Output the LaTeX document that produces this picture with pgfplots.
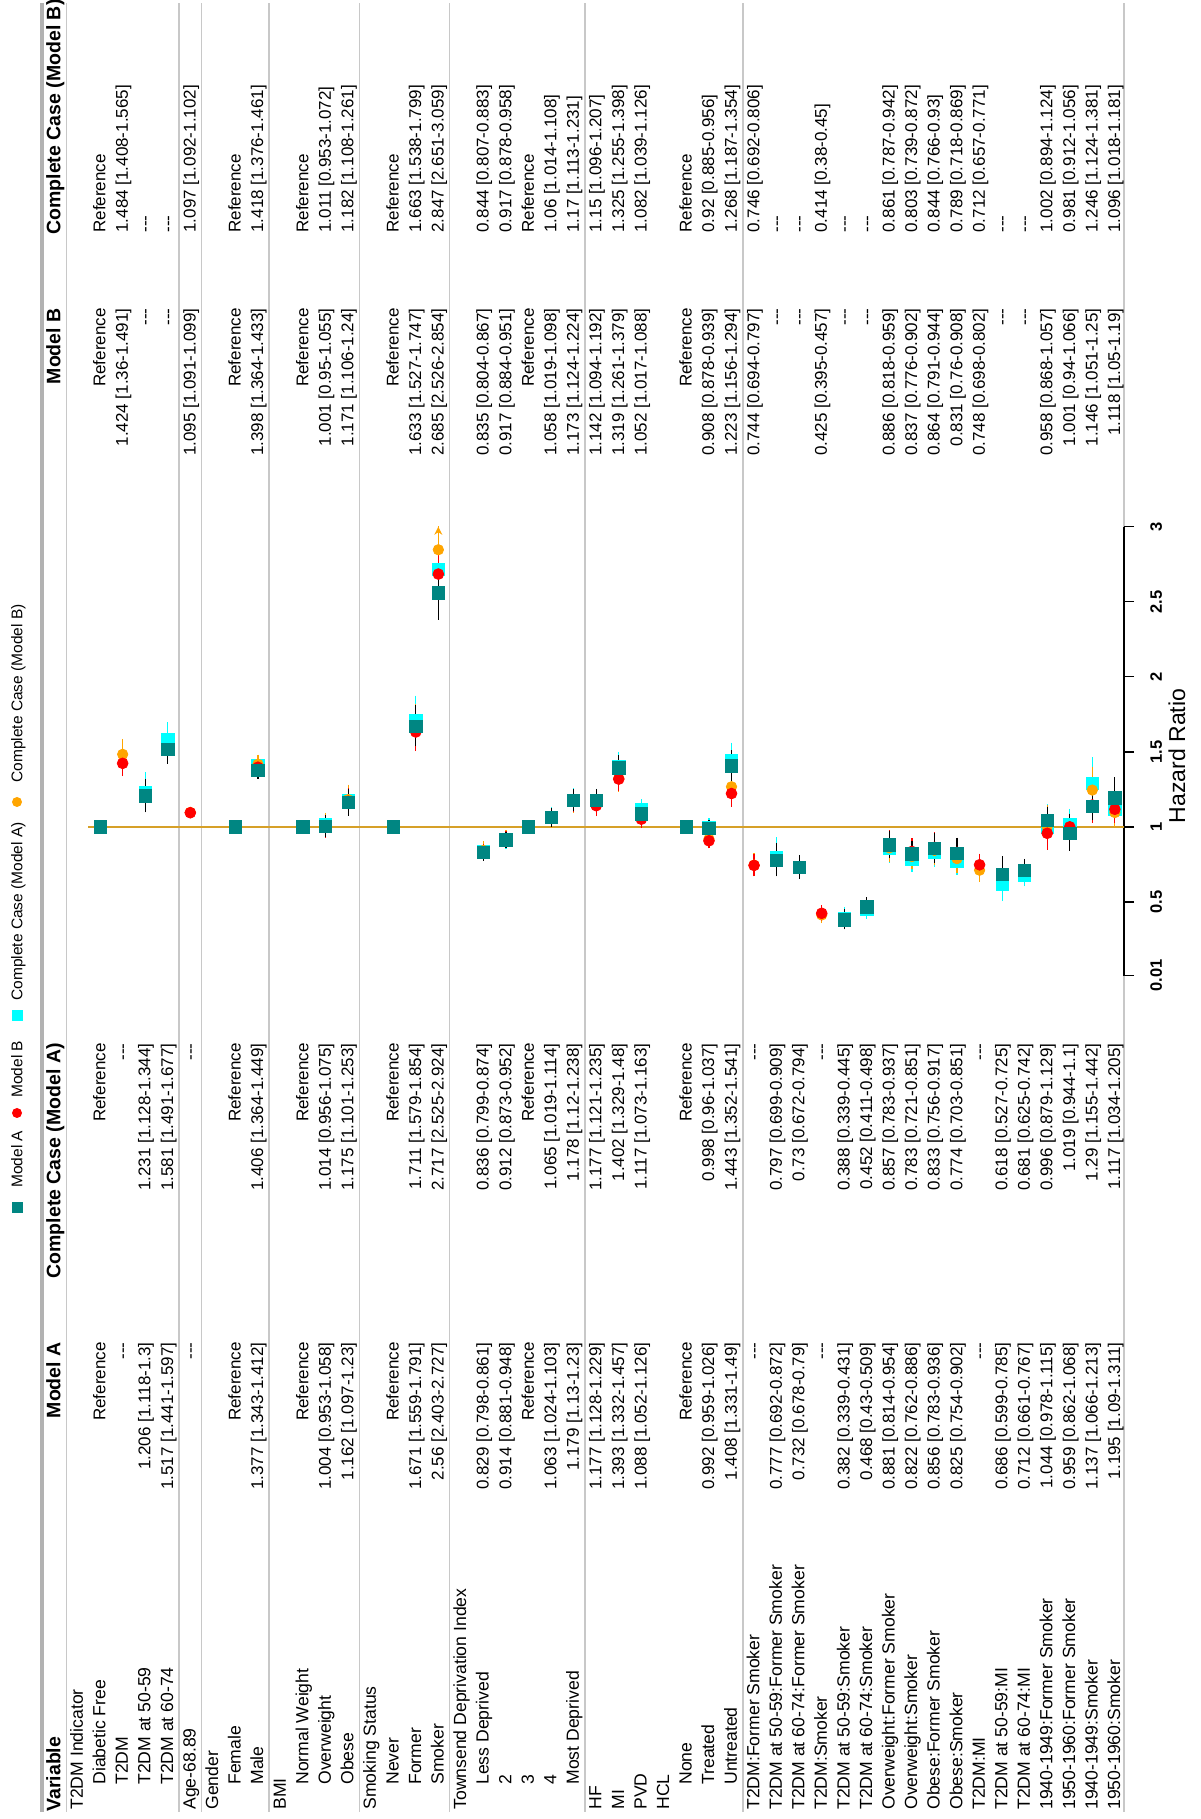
\documentclass[border=0pt]{standalone}
\usepackage{pgfplots}
\pgfplotsset{compat=1.18}
\usepackage{pgfplotstable}
\usepackage{fontspec}
\setmainfont{Liberation Sans}
\usetikzlibrary{arrows.meta}

\definecolor{mA}{RGB}{0,134,130}
\definecolor{mB}{RGB}{255,0,0}
\definecolor{ccA}{RGB}{0,255,255}
\definecolor{ccB}{RGB}{255,165,0}
\definecolor{refline}{RGB}{214,160,40}
\definecolor{sep}{RGB}{200,200,200}

% row index i, hazard ratio, lower, upper
\pgfplotstableread{
i hr lo hi
4 1.206 1.118 1.3
5 1.517 1.441 1.597
9 1.377 1.343 1.412
12 1.004 0.953 1.058
13 1.162 1.097 1.23
16 1.671 1.559 1.791
17 2.56 2.403 2.727
19 0.829 0.798 0.861
20 0.914 0.881 0.948
22 1.063 1.024 1.103
23 1.179 1.13 1.23
24 1.177 1.128 1.229
25 1.393 1.332 1.457
26 1.088 1.052 1.126
29 0.992 0.959 1.026
30 1.408 1.331 1.49
32 0.777 0.692 0.872
33 0.732 0.678 0.79
35 0.382 0.339 0.431
36 0.468 0.43 0.509
37 0.881 0.814 0.954
38 0.822 0.762 0.886
39 0.856 0.783 0.936
40 0.825 0.754 0.902
42 0.686 0.599 0.785
43 0.712 0.661 0.767
44 1.044 0.978 1.115
45 0.959 0.862 1.068
46 1.137 1.066 1.213
47 1.195 1.09 1.311
}\modelA

\pgfplotstableread{
i hr lo hi
3 1.424 1.36 1.491
6 1.095 1.091 1.099
9 1.398 1.364 1.433
12 1.001 0.95 1.055
13 1.171 1.106 1.24
16 1.633 1.527 1.747
17 2.685 2.526 2.854
19 0.835 0.804 0.867
20 0.917 0.884 0.951
22 1.058 1.019 1.098
23 1.173 1.124 1.224
24 1.142 1.094 1.192
25 1.319 1.261 1.379
26 1.052 1.017 1.088
29 0.908 0.878 0.939
30 1.223 1.156 1.294
31 0.744 0.694 0.797
34 0.425 0.395 0.457
37 0.886 0.818 0.959
38 0.837 0.776 0.902
39 0.864 0.791 0.944
40 0.831 0.76 0.908
41 0.748 0.698 0.802
44 0.958 0.868 1.057
45 1.001 0.94 1.066
46 1.146 1.051 1.25
47 1.118 1.05 1.19
}\modelB

\pgfplotstableread{
i hr lo hi
4 1.231 1.128 1.344
5 1.581 1.491 1.677
9 1.406 1.364 1.449
12 1.014 0.956 1.075
13 1.175 1.101 1.253
16 1.711 1.579 1.854
17 2.717 2.525 2.924
19 0.836 0.799 0.874
20 0.912 0.873 0.952
22 1.065 1.019 1.114
23 1.178 1.12 1.238
24 1.177 1.121 1.235
25 1.402 1.329 1.48
26 1.117 1.073 1.163
29 0.998 0.96 1.037
30 1.443 1.352 1.541
32 0.797 0.699 0.909
33 0.73 0.672 0.794
35 0.388 0.339 0.445
36 0.452 0.411 0.498
37 0.857 0.783 0.937
38 0.783 0.721 0.851
39 0.833 0.756 0.917
40 0.774 0.703 0.851
42 0.618 0.527 0.725
43 0.681 0.625 0.742
44 0.996 0.879 1.129
45 1.019 0.944 1.1
46 1.29 1.155 1.442
47 1.117 1.034 1.205
}\ccAtab

\pgfplotstableread{
i hr lo hi
3 1.484 1.408 1.565
6 1.097 1.092 1.102
9 1.418 1.376 1.461
12 1.011 0.953 1.072
13 1.182 1.108 1.261
16 1.663 1.538 1.799
17 2.847 2.651 3.059
19 0.844 0.807 0.883
20 0.917 0.878 0.958
22 1.06 1.014 1.108
23 1.17 1.113 1.231
24 1.15 1.096 1.207
25 1.325 1.255 1.398
26 1.082 1.039 1.126
29 0.92 0.885 0.956
30 1.268 1.187 1.354
31 0.746 0.692 0.806
34 0.414 0.38 0.45
37 0.861 0.787 0.942
38 0.803 0.739 0.872
39 0.844 0.766 0.93
40 0.789 0.718 0.869
41 0.712 0.657 0.771
44 1.002 0.894 1.124
45 0.981 0.912 1.056
46 1.246 1.124 1.381
47 1.096 1.018 1.181
}\ccBtab

% reference categories
\pgfplotstableread{
i hr
2 1
8 1
11 1
15 1
21 1
28 1
}\reftab

\newcommand\na{-{}-{}-}
% x of row i in px: 55+22.55*i ; y in px measured from the bottom
\newcommand\lab[3]{\node[txt,font=\fontsize{8.8}{10}\selectfont,anchor=mid west] at ({55+22.55*#1},#2) {#3};}
\newcommand\vals[5]{%
  \node[txt,anchor=mid east] at ({55+22.55*#1},477) {#2};
  \node[txt,anchor=mid east] at ({55+22.55*#1},776) {#3};
  \node[txt,anchor=mid east] at ({55+22.55*#1},1511) {#4};
  \node[txt,anchor=mid west] at ({55+22.55*#1},1586) {#5};}

\pgfplotsset{
  ci/.style={error bars/.cd, y dir=both, y explicit,
    error bar style={#1, line width=0.6pt},
    error mark options={#1, mark size=1.6pt, line width=0.6pt}},
  table/cicols/.style={x=i, y=hr,
    y error plus expr=\thisrow{hi}-\thisrow{hr},
    y error minus expr=\thisrow{hr}-\thisrow{lo}},
}

\begin{document}
\begin{tikzpicture}[x=0.5pt,y=0.5pt,
  txt/.style={rotate=90,inner sep=0pt,font=\fontsize{8.5}{10}\selectfont},
  hdr/.style={rotate=90,inner sep=0pt,font=\bfseries\fontsize{9.75}{11}\selectfont},
  leg/.style={rotate=90,inner sep=0pt,anchor=mid west,font=\fontsize{7.75}{9}\selectfont}]
\useasboundingbox (0,0) rectangle (1200,1819);

% table rules
\foreach \xx in {66.3,179,201.6,269.2,359.4,449.6,584.9,742.7,1124}
  \draw[sep,line width=0.8pt] (\xx,7) -- (\xx,1816);
\draw[black!30,line width=1.6pt] (42,7) -- (42,1816);

\begin{axis}[
  at={(44pt,421.7pt)}, anchor=south west,
  scale only axis, width=518pt, height=224.4pt,
  xmin=1.4634, xmax=47.4058, ymin=0.01, ymax=3,
  axis x line=none, axis y line=right,
  axis line style={-, line width=0.6pt},
  xtick=\empty,
  ytick={0.01,0.5,1,1.5,2,2.5,3},
  yticklabels={0.01,0.5,1,1.5,2,2.5,3},
  tick align=outside, major tick length=5pt,
  ytick style={black, line width=0.6pt},
  yticklabel style={rotate=90, anchor=north, inner sep=0pt, font=\bfseries\fontsize{8.25}{9}\selectfont},
  yticklabel shift=8pt,
]
\draw[refline, line width=0.8pt] (axis cs:1.4634,1) -- (axis cs:47.4058,1);

\addplot[only marks, mark=square*, mark size=3.1pt, color=ccA, ci=ccA] table[cicols] {\ccAtab};
\addplot[only marks, mark=*, mark size=2.6pt, color=ccB, ci=ccB] table[cicols] {\ccBtab};
\addplot[only marks, mark=*, mark size=2.7pt, color=mB, ci=mB] table[cicols] {\modelB};
\addplot[only marks, mark=square*, mark size=3.1pt, color=mA, mark options={mA}, ci=black] table[cicols] {\modelA};
\addplot[only marks, mark=square*, mark size=3.1pt, color=mA] table[x=i, y=hr] {\reftab};
\draw[ccB, line width=0.6pt, -{Stealth[length=4pt,width=4pt]}] (axis cs:17,2.93) -- (axis cs:17,3.0);
\end{axis}

\node[rotate=90, font=\fontsize{11.5}{13}\selectfont] at (1177,1063) {Hazard Ratio};

% legend (rotated, reads bottom to top)
\fill[mA] (11.5,605.5) rectangle (22.5,616.5);
\node[leg] at (17,631) {Model A};
\fill[mB] (17,706) circle (5);
\node[leg] at (17,721) {Model B};
\fill[ccA] (11.5,797.5) rectangle (22.5,808.5);
\node[leg] at (17,818) {Complete Case (Model A)};
\fill[ccB] (17,1017) circle (5);
\node[leg] at (17,1036) {Complete Case (Model B)};

% headers
\node[hdr,anchor=mid west] at (55,7) {Variable};
\node[hdr,anchor=mid east] at (55,477) {Model A};
\node[hdr,anchor=mid east] at (55,776) {Complete Case (Model A)};
\node[hdr,anchor=mid east] at (55,1511) {Model B};
\node[hdr,anchor=mid west] at (55,1584) {Complete Case (Model B)};

% rows
\lab{1}{9}{T2DM Indicator}
\lab{2}{34}{Diabetic Free}\vals{2}{Reference}{Reference}{Reference}{Reference}
\lab{3}{34}{T2DM}\vals{3}{\na}{\na}{1.424 [1.36-1.491]}{1.484 [1.408-1.565]}
\lab{4}{34}{T2DM at 50-59}\vals{4}{1.206 [1.118-1.3]}{1.231 [1.128-1.344]}{\na}{\na}
\lab{5}{34}{T2DM at 60-74}\vals{5}{1.517 [1.441-1.597]}{1.581 [1.491-1.677]}{\na}{\na}
\lab{6}{9}{Age-68.89}\vals{6}{\na}{\na}{1.095 [1.091-1.099]}{1.097 [1.092-1.102]}
\lab{7}{9}{Gender}
\lab{8}{34}{Female}\vals{8}{Reference}{Reference}{Reference}{Reference}
\lab{9}{34}{Male}\vals{9}{1.377 [1.343-1.412]}{1.406 [1.364-1.449]}{1.398 [1.364-1.433]}{1.418 [1.376-1.461]}
\lab{10}{9}{BMI}
\lab{11}{34}{Normal Weight}\vals{11}{Reference}{Reference}{Reference}{Reference}
\lab{12}{34}{Overweight}\vals{12}{1.004 [0.953-1.058]}{1.014 [0.956-1.075]}{1.001 [0.95-1.055]}{1.011 [0.953-1.072]}
\lab{13}{34}{Obese}\vals{13}{1.162 [1.097-1.23]}{1.175 [1.101-1.253]}{1.171 [1.106-1.24]}{1.182 [1.108-1.261]}
\lab{14}{9}{Smoking Status}
\lab{15}{34}{Never}\vals{15}{Reference}{Reference}{Reference}{Reference}
\lab{16}{34}{Former}\vals{16}{1.671 [1.559-1.791]}{1.711 [1.579-1.854]}{1.633 [1.527-1.747]}{1.663 [1.538-1.799]}
\lab{17}{34}{Smoker}\vals{17}{2.56 [2.403-2.727]}{2.717 [2.525-2.924]}{2.685 [2.526-2.854]}{2.847 [2.651-3.059]}
\lab{18}{9}{Townsend Deprivation Index}
\lab{19}{34}{Less Deprived}\vals{19}{0.829 [0.798-0.861]}{0.836 [0.799-0.874]}{0.835 [0.804-0.867]}{0.844 [0.807-0.883]}
\lab{20}{34}{2}\vals{20}{0.914 [0.881-0.948]}{0.912 [0.873-0.952]}{0.917 [0.884-0.951]}{0.917 [0.878-0.958]}
\lab{21}{34}{3}\vals{21}{Reference}{Reference}{Reference}{Reference}
\lab{22}{34}{4}\vals{22}{1.063 [1.024-1.103]}{1.065 [1.019-1.114]}{1.058 [1.019-1.098]}{1.06 [1.014-1.108]}
\lab{23}{34}{Most Deprived}\vals{23}{1.179 [1.13-1.23]}{1.178 [1.12-1.238]}{1.173 [1.124-1.224]}{1.17 [1.113-1.231]}
\lab{24}{9}{HF}\vals{24}{1.177 [1.128-1.229]}{1.177 [1.121-1.235]}{1.142 [1.094-1.192]}{1.15 [1.096-1.207]}
\lab{25}{9}{MI}\vals{25}{1.393 [1.332-1.457]}{1.402 [1.329-1.48]}{1.319 [1.261-1.379]}{1.325 [1.255-1.398]}
\lab{26}{9}{PVD}\vals{26}{1.088 [1.052-1.126]}{1.117 [1.073-1.163]}{1.052 [1.017-1.088]}{1.082 [1.039-1.126]}
\lab{27}{9}{HCL}
\lab{28}{34}{None}\vals{28}{Reference}{Reference}{Reference}{Reference}
\lab{29}{34}{Treated}\vals{29}{0.992 [0.959-1.026]}{0.998 [0.96-1.037]}{0.908 [0.878-0.939]}{0.92 [0.885-0.956]}
\lab{30}{34}{Untreated}\vals{30}{1.408 [1.331-1.49]}{1.443 [1.352-1.541]}{1.223 [1.156-1.294]}{1.268 [1.187-1.354]}
\lab{31}{9}{T2DM:Former Smoker}\vals{31}{\na}{\na}{0.744 [0.694-0.797]}{0.746 [0.692-0.806]}
\lab{32}{9}{T2DM at 50-59:Former Smoker}\vals{32}{0.777 [0.692-0.872]}{0.797 [0.699-0.909]}{\na}{\na}
\lab{33}{9}{T2DM at 60-74:Former Smoker}\vals{33}{0.732 [0.678-0.79]}{0.73 [0.672-0.794]}{\na}{\na}
\lab{34}{9}{T2DM:Smoker}\vals{34}{\na}{\na}{0.425 [0.395-0.457]}{0.414 [0.38-0.45]}
\lab{35}{9}{T2DM at 50-59:Smoker}\vals{35}{0.382 [0.339-0.431]}{0.388 [0.339-0.445]}{\na}{\na}
\lab{36}{9}{T2DM at 60-74:Smoker}\vals{36}{0.468 [0.43-0.509]}{0.452 [0.411-0.498]}{\na}{\na}
\lab{37}{9}{Overweight:Former Smoker}\vals{37}{0.881 [0.814-0.954]}{0.857 [0.783-0.937]}{0.886 [0.818-0.959]}{0.861 [0.787-0.942]}
\lab{38}{9}{Overweight:Smoker}\vals{38}{0.822 [0.762-0.886]}{0.783 [0.721-0.851]}{0.837 [0.776-0.902]}{0.803 [0.739-0.872]}
\lab{39}{9}{Obese:Former Smoker}\vals{39}{0.856 [0.783-0.936]}{0.833 [0.756-0.917]}{0.864 [0.791-0.944]}{0.844 [0.766-0.93]}
\lab{40}{9}{Obese:Smoker}\vals{40}{0.825 [0.754-0.902]}{0.774 [0.703-0.851]}{0.831 [0.76-0.908]}{0.789 [0.718-0.869]}
\lab{41}{9}{T2DM:MI}\vals{41}{\na}{\na}{0.748 [0.698-0.802]}{0.712 [0.657-0.771]}
\lab{42}{9}{T2DM at 50-59:MI}\vals{42}{0.686 [0.599-0.785]}{0.618 [0.527-0.725]}{\na}{\na}
\lab{43}{9}{T2DM at 60-74:MI}\vals{43}{0.712 [0.661-0.767]}{0.681 [0.625-0.742]}{\na}{\na}
\lab{44}{9}{1940-1949:Former Smoker}\vals{44}{1.044 [0.978-1.115]}{0.996 [0.879-1.129]}{0.958 [0.868-1.057]}{1.002 [0.894-1.124]}
\lab{45}{9}{1950-1960:Former Smoker}\vals{45}{0.959 [0.862-1.068]}{1.019 [0.944-1.1]}{1.001 [0.94-1.066]}{0.981 [0.912-1.056]}
\lab{46}{9}{1940-1949:Smoker}\vals{46}{1.137 [1.066-1.213]}{1.29 [1.155-1.442]}{1.146 [1.051-1.25]}{1.246 [1.124-1.381]}
\lab{47}{9}{1950-1960:Smoker}\vals{47}{1.195 [1.09-1.311]}{1.117 [1.034-1.205]}{1.118 [1.05-1.19]}{1.096 [1.018-1.181]}
\end{tikzpicture}
\end{document}
